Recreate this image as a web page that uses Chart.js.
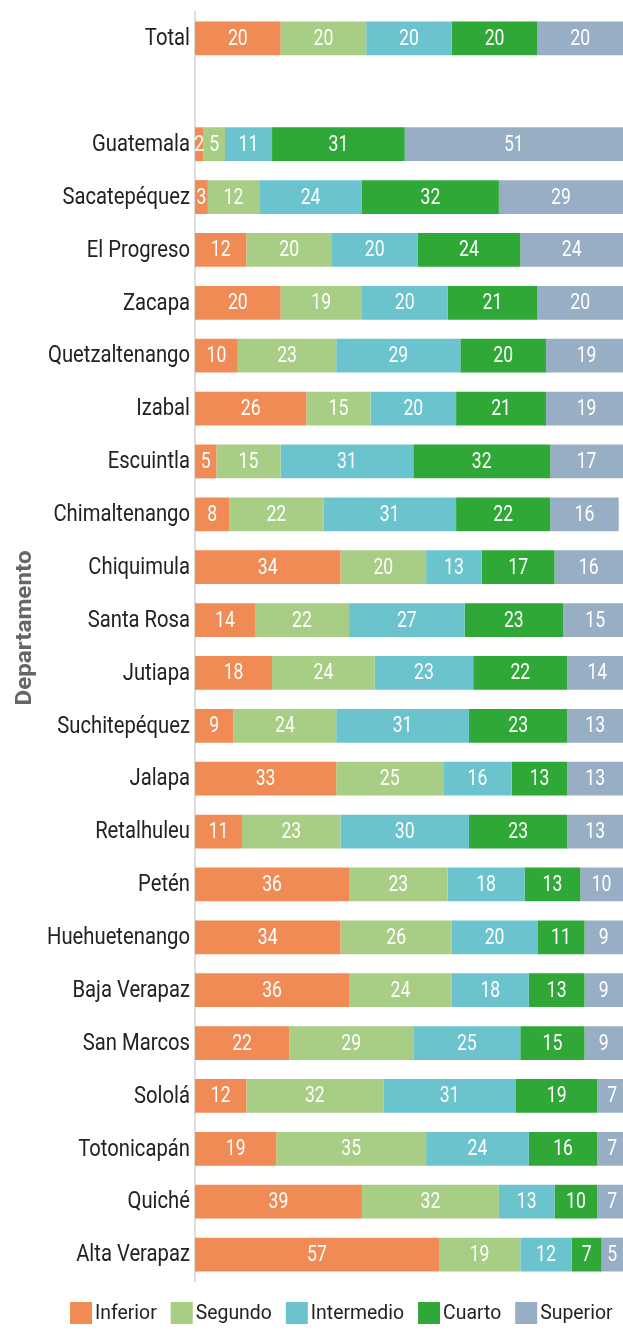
<!DOCTYPE html>
<html>
<head>
<meta charset="utf-8">
<script src="https://cdn.jsdelivr.net/npm/chart.js@4.4.1/dist/chart.umd.min.js"></script>
<style>
  html, body { margin: 0; padding: 0; background: #fff; }
  #wrap { width: 623px; height: 1331px; position: relative; }
</style>
</head>
<body>
<div id="wrap"><canvas id="chart"></canvas></div>
<script>
// Departamentos (blank entry leaves the gap under Total)
const departamentos = ['Total', '', 'Guatemala', 'Sacatepéquez', 'El Progreso', 'Zacapa', 'Quetzaltenango',
  'Izabal', 'Escuintla', 'Chimaltenango', 'Chiquimula', 'Santa Rosa', 'Jutiapa', 'Suchitepéquez',
  'Jalapa', 'Retalhuleu', 'Petén', 'Huehuetenango', 'Baja Verapaz', 'San Marcos', 'Sololá',
  'Totonicapán', 'Quiché', 'Alta Verapaz'];

const inferior   = [20, null, 2, 3, 12, 20, 10, 26, 5, 8, 34, 14, 18, 9, 33, 11, 36, 34, 36, 22, 12, 19, 39, 57];
const segundo    = [20, null, 5, 12, 20, 19, 23, 15, 15, 22, 20, 22, 24, 24, 25, 23, 23, 26, 24, 29, 32, 35, 32, 19];
const intermedio = [20, null, 11, 24, 20, 20, 29, 20, 31, 31, 13, 27, 23, 31, 16, 30, 18, 20, 18, 25, 31, 24, 13, 12];
const cuarto     = [20, null, 31, 32, 24, 21, 20, 21, 32, 22, 17, 23, 22, 23, 13, 23, 13, 11, 13, 15, 19, 16, 10, 7];
const superior   = [20, null, 51, 29, 24, 20, 19, 19, 17, 16, 16, 15, 14, 13, 13, 13, 10, 9, 9, 9, 7, 7, 7, 5];

const FONT = "Roboto, 'Liberation Sans', sans-serif";

// the original uses a condensed face, so squeeze the text horizontally
function narrowText(ctx, text, x, y, sx, align) {
  ctx.save();
  ctx.translate(x, y);
  ctx.scale(sx, 1);
  ctx.textAlign = align;
  ctx.fillText(text, 0, 0);
  ctx.restore();
}

// Values inside segments, category labels, axis title and legend
const textLayer = {
  id: 'textLayer',
  afterDraw(chart) {
    const ctx = chart.ctx;
    const area = chart.chartArea;
    const yScale = chart.scales.y;
    ctx.save();
    ctx.textBaseline = 'middle';

    // segment values
    ctx.font = '22px ' + FONT;
    ctx.fillStyle = '#fff';
    chart.data.datasets.forEach((ds, i) => {
      chart.getDatasetMeta(i).data.forEach((bar, j) => {
        const v = ds.data[j];
        if (v == null) return;
        narrowText(ctx, String(v), (bar.x + bar.base) / 2, bar.y + 1, 0.8, 'center');
      });
    });

    // category labels
    ctx.font = '23px ' + FONT;
    ctx.fillStyle = '#222';
    chart.data.labels.forEach((lab, j) => {
      narrowText(ctx, lab, area.left - 5, yScale.getPixelForValue(j) + 1, 0.88, 'right');
    });

    // axis title
    ctx.save();
    ctx.translate(25, 628);
    ctx.rotate(-Math.PI / 2);
    ctx.font = 'bold 22px ' + FONT;
    ctx.fillStyle = '#666';
    narrowText(ctx, 'Departamento', 0, 0, 1.1, 'center');
    ctx.restore();

    // legend
    ctx.font = '20px ' + FONT;
    let x = 70;
    const ly = 1313;
    chart.data.datasets.forEach(ds => {
      ctx.fillStyle = ds.backgroundColor;
      ctx.fillRect(x, ly - 11, 22, 22);
      ctx.fillStyle = '#222';
      narrowText(ctx, ds.label, x + 25, ly + 1, 0.97, 'left');
      x += 25 + ctx.measureText(ds.label).width * 0.97 + 14;
    });
    ctx.restore();
  }
};

new Chart(document.getElementById('chart'), {
  type: 'bar',
  data: {
    labels: departamentos,
    datasets: [
      { label: 'Inferior', data: inferior, backgroundColor: '#F08B56' },
      { label: 'Segundo', data: segundo, backgroundColor: '#A8CD85' },
      { label: 'Intermedio', data: intermedio, backgroundColor: '#6BC3CD' },
      { label: 'Cuarto', data: cuarto, backgroundColor: '#2FA838' },
      { label: 'Superior', data: superior, backgroundColor: '#97AEC4' },
    ],
  },
  options: {
    indexAxis: 'y',
    responsive: true,
    maintainAspectRatio: false,
    animation: false,
    datasets: { bar: { categoryPercentage: 1, barPercentage: 0.64 } },
    layout: { padding: { top: 12, right: 0, left: 0, bottom: 50 } },
    scales: {
      x: { stacked: true, min: 0, max: 100, display: false },
      y: {
        stacked: true,
        grid: { display: false },
        border: { color: '#dddddd', width: 2 },
        ticks: { display: false },
        afterFit(scale) { scale.width = 195; },
      },
    },
    plugins: {
      legend: { display: false },
      tooltip: { enabled: false },
    },
  },
  plugins: [textLayer],
});
</script>
</body>
</html>
